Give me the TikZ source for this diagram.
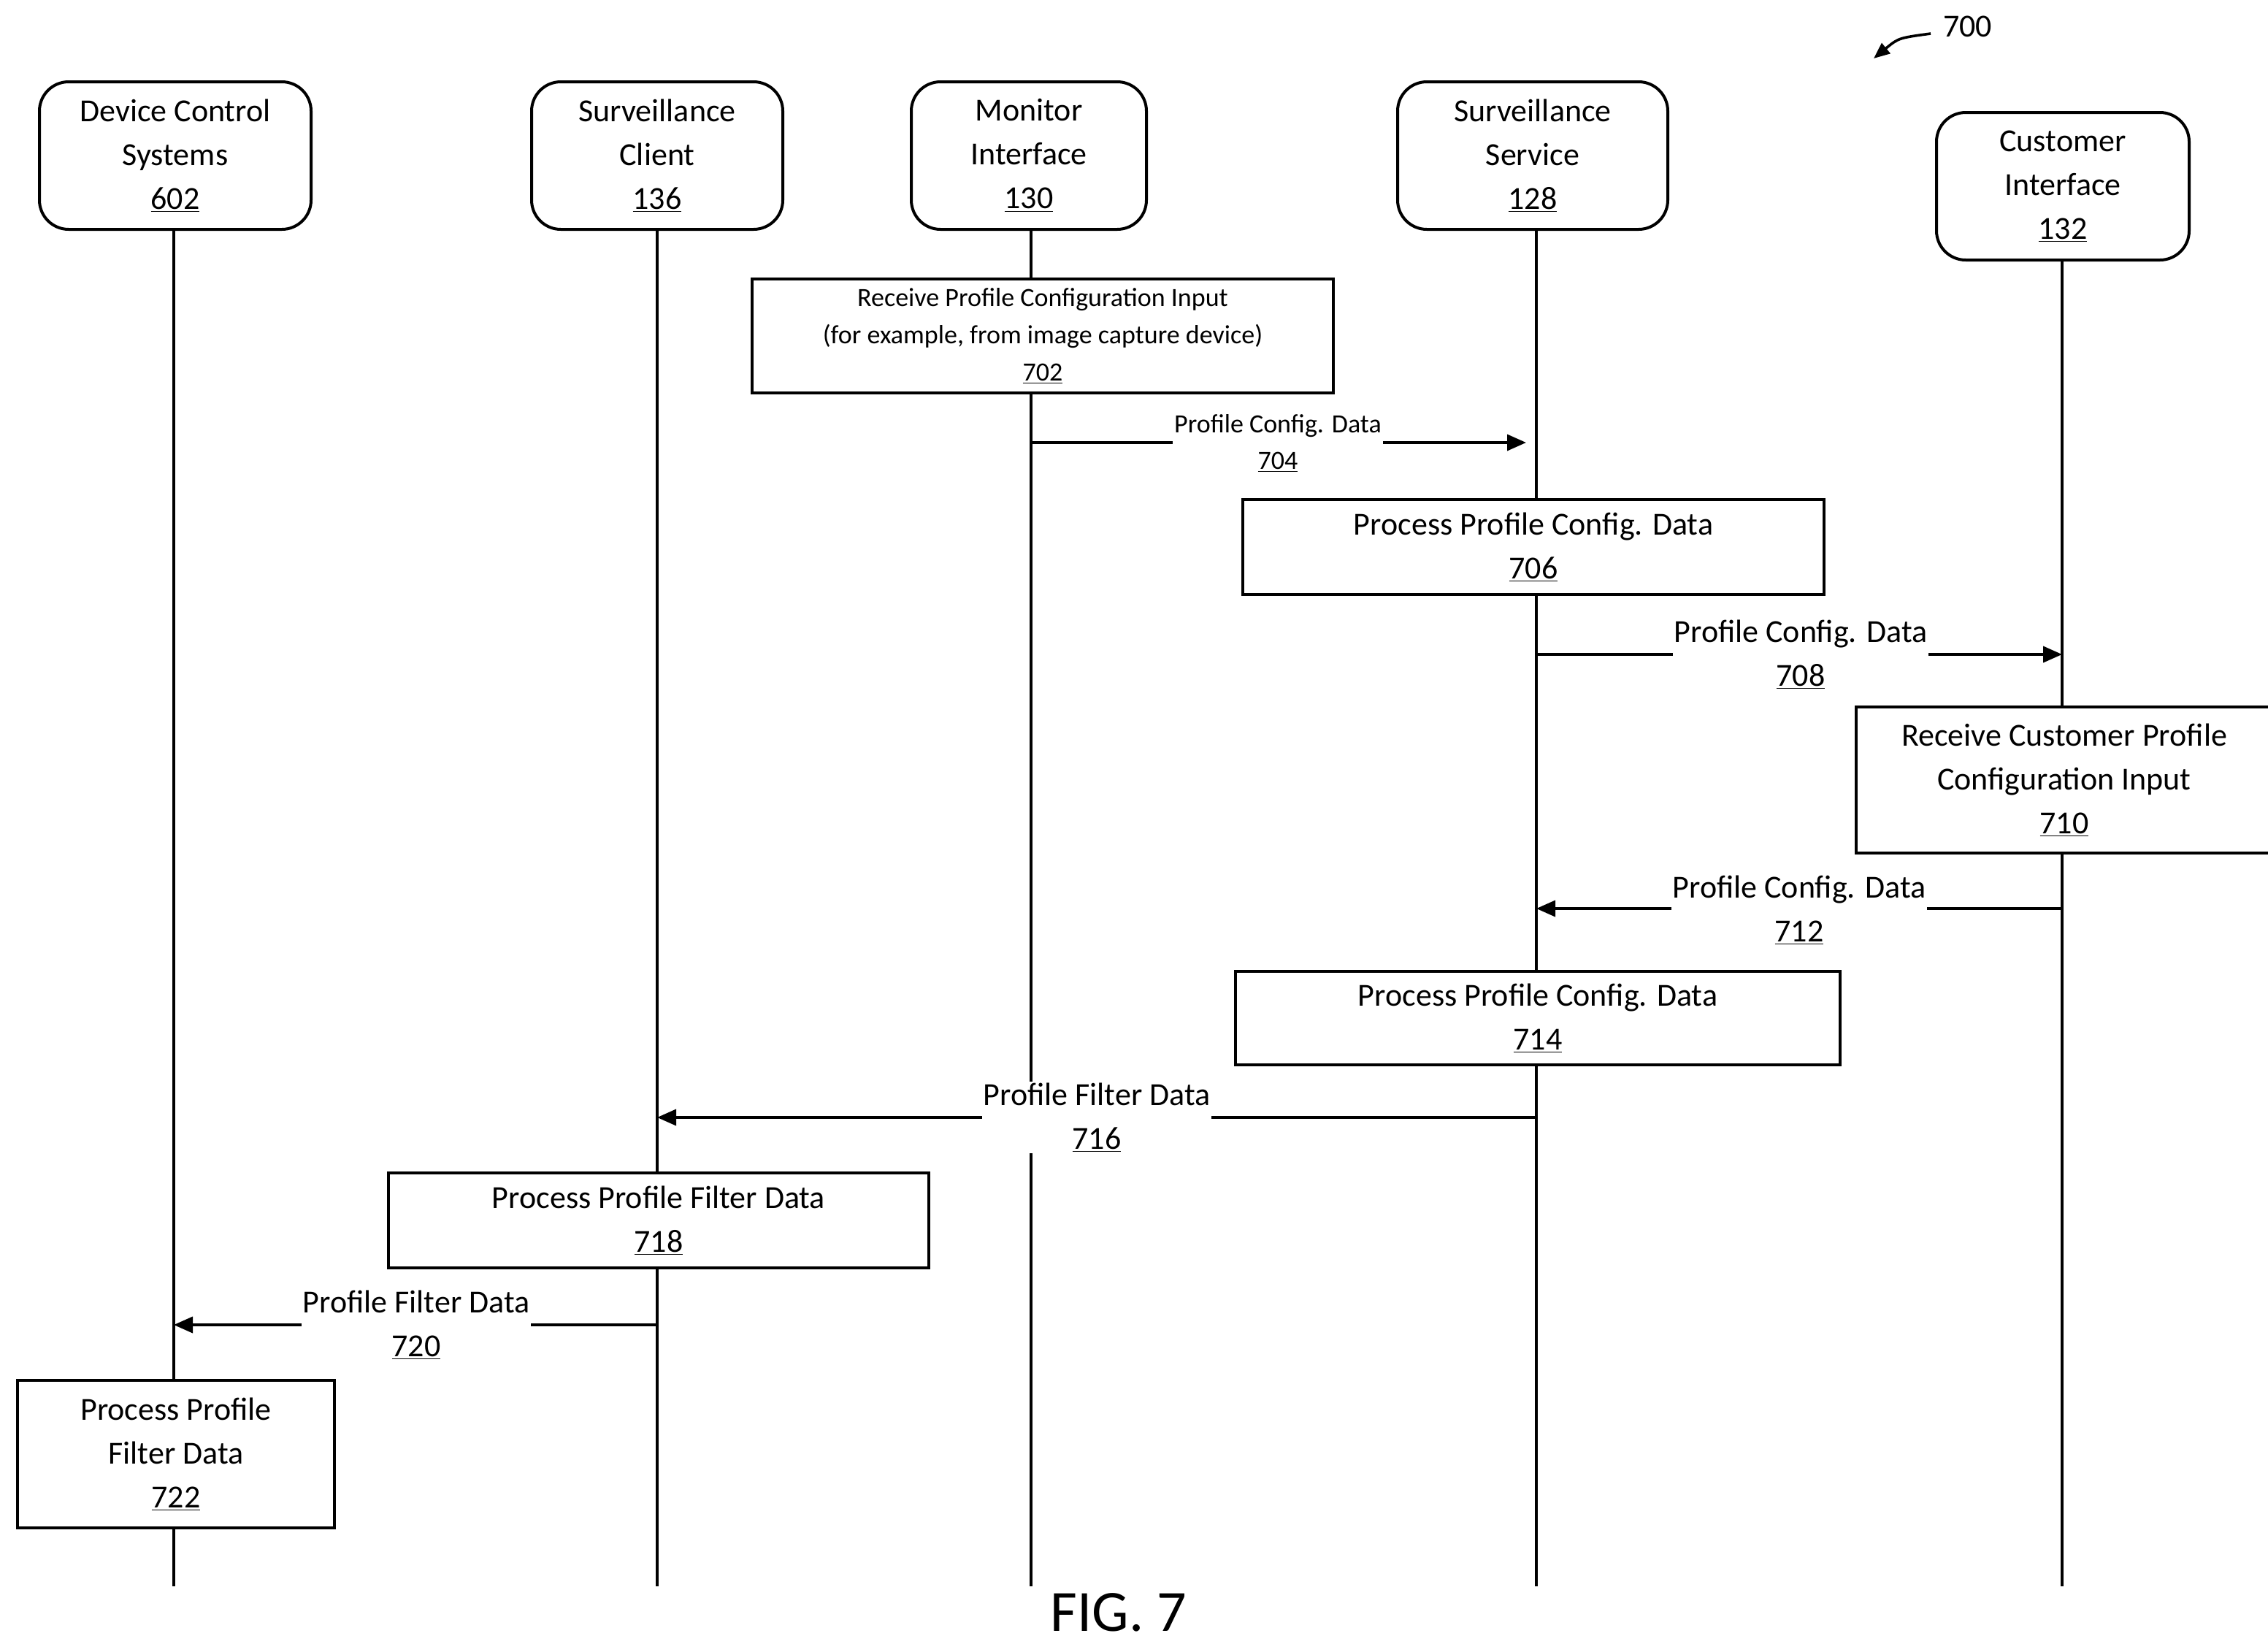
\documentclass[tikz,border=0pt]{standalone}
\usepackage{fontspec}
\setmainfont{Carlito}
\usetikzlibrary{arrows.meta}
\begin{document}
\begin{tikzpicture}[x=1pt,y=-1pt,
  hdr/.style={draw,line width=2pt,rounded corners=20pt,fill=white,inner sep=0pt,align=center,font=\fontsize{22}{30}\selectfont},
  box/.style={draw,line width=1.8pt,fill=white,inner sep=0pt,align=center,font=\fontsize{22}{30}\selectfont},
  life/.style={line width=1.8pt},
  msg/.style={line width=1.8pt,-{Triangle[length=13pt,width=11pt]}},
  lbl/.style={fill=white,inner sep=1pt,align=center,font=\fontsize{22}{30}\selectfont}]
\useasboundingbox (0,0) rectangle (1553,1125);
% lifelines
\coordinate (l1t) at (119,157); \coordinate (l1b) at (119,1086);
\coordinate (l2t) at (450,157); \coordinate (l2b) at (450,1086);
\coordinate (l3t) at (706,157); \coordinate (l3b) at (706,1086);
\coordinate (l4t) at (1052,157); \coordinate (l4b) at (1052,1086);
\coordinate (l5t) at (1412,178); \coordinate (l5b) at (1412,1086);
\foreach \i in {1,...,5} \draw[life] (l\i t) -- (l\i b);
% headers
\node[hdr,minimum width=186pt,minimum height=101pt] (h1) at (120,106.5) {Device Control\\Systems\\\underline{602}};
\node[hdr,minimum width=172pt,minimum height=101pt] (h2) at (450,106.5) {Surveillance\\Client\\\underline{136}};
\node[hdr,minimum width=161pt,minimum height=101pt] (h3) at (704.5,106.5) {Monitor\\Interface\\\underline{130}};
\node[hdr,minimum width=185pt,minimum height=101pt] (h4) at (1049.5,106.5) {Surveillance\\Service\\\underline{128}};
\node[hdr,minimum width=173pt,minimum height=101pt] (h5) at (1412.5,127.5) {Customer\\Interface\\\underline{132}};
% process boxes
\node[box,minimum width=398pt,minimum height=78pt,font=\fontsize{18}{25.5}\selectfont] (b702) at (714,230) {Receive Profile Configuration Input\\(for example, from image capture device)\\\underline{702}};
\node[box,minimum width=398pt,minimum height=65pt] (b706) at (1050,374.5) {Process Profile Config. Data\\\underline{706}};
\node[box,minimum width=285pt,minimum height=100pt] (b710) at (1413.5,534) {Receive Customer Profile\\Configuration Input\\\underline{710}};
\node[box,minimum width=414pt,minimum height=64pt] (b714) at (1053,697) {Process Profile Config. Data\\\underline{714}};
\node[box,minimum width=370pt,minimum height=65pt] (b718) at (451,835.5) {Process Profile Filter Data\\\underline{718}};
\node[box,minimum width=217pt,minimum height=101pt] (b722) at (120.5,995.5) {Process Profile\\Filter Data\\\underline{722}};
% messages
\coordinate (m704a) at (706,303); \coordinate (m704b) at (1045,303);
\draw[msg] (m704a) -- (m704b);
\node[lbl,font=\fontsize{18}{25}\selectfont] (t704) at (875,303.5) {Profile Config. Data\\\underline{704}};
\coordinate (m708a) at (1052,448); \coordinate (m708b) at (1412,448);
\draw[msg] (m708a) -- (m708b);
\node[lbl] (t708) at (1233,448) {Profile Config. Data\\\underline{708}};
\coordinate (m712a) at (1412,622); \coordinate (m712b) at (1052,622);
\draw[msg] (m712a) -- (m712b);
\node[lbl] (t712) at (1232,623) {Profile Config. Data\\\underline{712}};
\coordinate (m716a) at (1052,765); \coordinate (m716b) at (450,765);
\draw[msg] (m716a) -- (m716b);
\node[lbl] (t716) at (751,765) {Profile Filter Data\\\underline{716}};
\coordinate (m720a) at (450,907); \coordinate (m720b) at (119,907);
\draw[msg] (m720a) -- (m720b);
\node[lbl] (t720) at (285,907) {Profile Filter Data\\\underline{720}};
% figure label
\node[font=\fontsize{40}{40}\selectfont] (fig) at (766,1104) {FIG. 7};
\node[font=\fontsize{22}{22}\selectfont,anchor=west] (n700) at (1327,18) {700};
\coordinate (a700) at (1283,40);
\draw[line width=1.8pt,-{Triangle[length=11pt,width=9pt]}] (1322,23) .. controls (1300,26) .. (a700);
\end{tikzpicture}
\end{document}
